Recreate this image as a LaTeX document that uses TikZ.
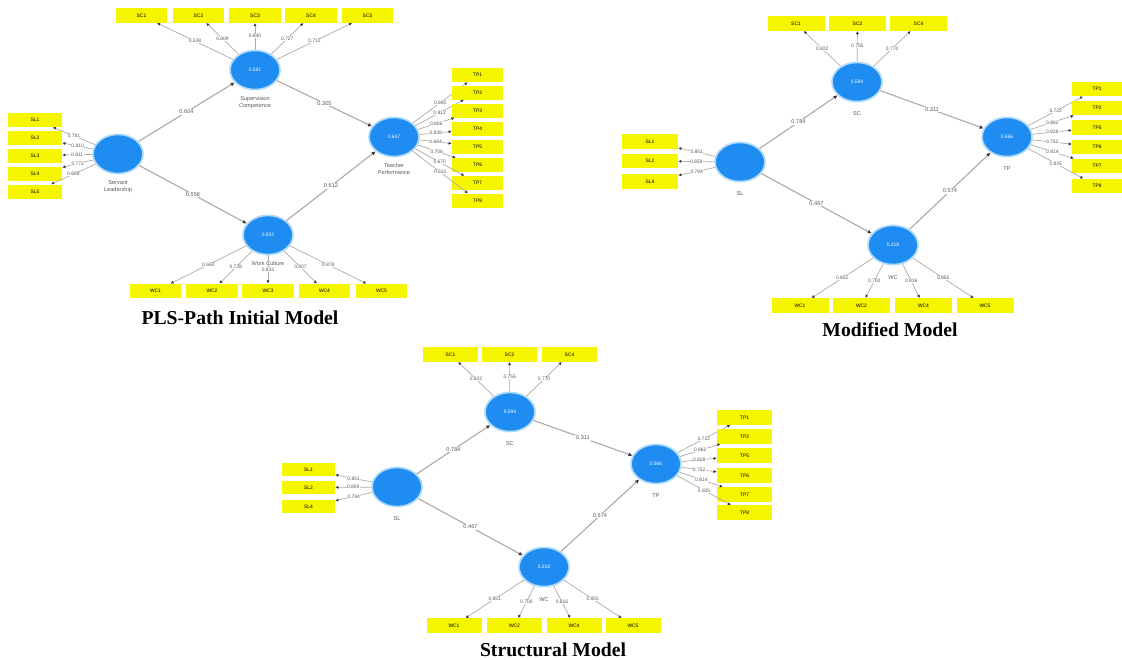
\documentclass[tikz,border=0pt]{standalone}
\usepackage{fontspec}
\setmainfont{Liberation Sans}
\newfontfamily\titlefont{Liberation Serif}
\usetikzlibrary{shapes.geometric,positioning,arrows.meta}
\definecolor{lvblue}{RGB}{30,140,240}
\definecolor{lvglow}{RGB}{175,218,250}
\definecolor{mvyellow}{RGB}{245,245,0}
\definecolor{linegray}{RGB}{175,170,165}
\begin{document}
\begin{tikzpicture}[x=0.025cm,y=-0.025cm,
	lv/.style={ellipse,fill=lvblue,draw=lvglow,line width=1.2pt,minimum width=1.25cm,minimum height=0.98cm,inner sep=0pt,text=white,font=\fontsize{3.5}{4}\selectfont},
	mv/.style={rectangle,fill=mvyellow,minimum width=1.3cm,minimum height=0.36cm,inner sep=0pt,font=\fontsize{3.5}{4}\selectfont},
	lvlab/.style={align=center,text=black!65,font=\fontsize{4}{4.6}\selectfont},
	load/.style={draw=linegray,line width=0.5pt,-{Latex[length=2.2pt,width=2.2pt,color=black!80]}},
	loadlab/.style={pos=0.5,fill=white,inner sep=0.3pt,text=black!65,font=\fontsize{3.5}{4}\selectfont},
	path/.style={draw=linegray,line width=0.8pt,-{Latex[length=2.8pt,width=2.8pt,color=black!80]}},
	pathlab/.style={midway,fill=white,inner sep=0.5pt,text=black!65,font=\fontsize{4}{4.6}\selectfont},
	title/.style={font=\titlefont\bfseries\fontsize{14}{16}\selectfont}]
	\useasboundingbox (0,0) rectangle (1122,659);
	\begin{scope}[mv/.append style={minimum width=1.275cm}]
		\node[lv] (p1SC) at (255,70) {0.581};
		\node[lv] (p1SL) at (118,154) {};
		\node[lv] (p1TP) at (394,137) {0.647};
		\node[lv] (p1WC) at (268,235) {0.502};
		\node[lvlab,below=1pt of p1SC] (p1SCl) {Supervision\\Competence};
		\node[lvlab,below=1pt of p1SL] (p1SLl) {Servant\\Leadership};
		\node[lvlab,below=1pt of p1TP] (p1TPl) {Teacher\\Performance};
		\node[lvlab,below=1pt of p1WC] (p1WCl) {Work Culture};
		\foreach \n/\x/\y/\v in {SC1/141.5/15.5/0.538,SC2/198.5/15.5/0.809,SC3/255/15.5/0.840,SC4/311/15.5/0.727,SC5/367.5/15.5/0.712}{
			\node[mv] (p1\n) at (\x,\y) {\n};
			\draw[load] (p1SC) -- (p1\n) node[loadlab] {\v};
		}
		\foreach \n/\x/\y/\v in {SL1/35/120/0.781,SL2/35/137.5/0.810,SL3/35/155.5/0.811,SL4/35/174/0.772,SL5/35/191.5/0.689}{
			\node[mv,minimum width=1.35cm,minimum height=0.35cm] (p1\n) at (\x,\y) {\n};
			\draw[load] (p1SL) -- (p1\n) node[loadlab] {\v};
		}
		\foreach \n/\y/\v in {TP1/75/0.690,TP2/92.5/0.812,TP3/110.5/0.806,TP4/129/0.838,TP5/146.5/0.684,TP6/165/0.706,TP7/183/0.670,TP8/200.5/0.632}{
			\node[mv,minimum height=0.35cm] (p1\n) at (477.5,\y) {\n};
			\draw[load] (p1TP) -- (p1\n) node[loadlab] {\v};
		}
		\foreach \n/\x/\v in {WC1/155.5/0.663,WC2/212/0.728,WC3/268/0.833,WC4/324.5/0.807,WC5/381.5/0.878}{
			\node[mv] (p1\n) at (\x,291) {\n};
			\draw[load] (p1WC) -- (p1\n) node[loadlab] {\v};
		}
		\draw[path] (p1SL) -- (p1SC) node[pathlab] {0.604};
		\draw[path] (p1SC) -- (p1TP) node[pathlab] {0.305};
		\draw[path] (p1SL) -- (p1WC) node[pathlab] {0.556};
		\draw[path] (p1WC) -- (p1TP) node[pathlab] {0.612};
		\node[title] (t1) at (240,318) {PLS-Path Initial Model};
	\end{scope}
	\begin{scope}[mv/.append style={minimum width=1.425cm}]
		\node[lv] (p2SC) at (857,82) {0.594};
		\node[lv] (p2SL) at (740,162) {};
		\node[lv] (p2TP) at (1007,137) {0.566};
		\node[lv] (p2WC) at (893,245) {0.218};
		\node[lvlab,below=3pt of p2SC] (p2SCl) {SC};
		\node[lvlab,below=3pt of p2SL] (p2SLl) {SL};
		\node[lvlab,below=3pt of p2TP] (p2TPl) {TP};
		\node[lvlab,below=4pt of p2WC] (p2WCl) {WC};
		\foreach \n/\x/\v in {SC1/796/0.822,SC2/857.5/0.755,SC4/918.5/0.770}{
			\node[mv] (p2\n) at (\x,23.5) {\n};
			\draw[load] (p2SC) -- (p2\n) node[loadlab] {\v};
		}
		\foreach \n/\y/\v in {SL1/141.5/0.851,SL2/161/0.859,SL4/181.5/0.794}{
			\node[mv,minimum width=1.4cm] (p2\n) at (650,\y) {\n};
			\draw[load] (p2SL) -- (p2\n) node[loadlab] {\v};
		}
		\foreach \n/\y/\v in {TP1/89/0.722,TP2/108/0.862,TP5/127.5/0.828,TP6/147/0.752,TP7/166/0.814,TP8/186/0.835}{
			\node[mv,minimum width=1.25cm] (p2\n) at (1097,\y) {\n};
			\draw[load] (p2TP) -- (p2\n) node[loadlab] {\v};
		}
		\foreach \n/\x/\v in {WC1/800/0.851,WC2/861.5/0.700,WC4/923.5/0.816,WC5/985/0.855}{
			\node[mv] (p2\n) at (\x,305.5) {\n};
			\draw[load] (p2WC) -- (p2\n) node[loadlab] {\v};
		}
		\draw[path] (p2SL) -- (p2SC) node[pathlab] {0.784};
		\draw[path] (p2SC) -- (p2TP) node[pathlab] {0.311};
		\draw[path] (p2SL) -- (p2WC) node[pathlab] {0.467};
		\draw[path] (p2WC) -- (p2TP) node[pathlab] {0.574};
		\node[title] (t2) at (890,330) {Modified Model};
	\end{scope}
	\begin{scope}[mv/.append style={minimum width=1.375cm}]
		\node[lv] (p3SC) at (510,412) {0.594};
		\node[lv] (p3SL) at (397,487) {};
		\node[lv] (p3TP) at (656,464) {0.566};
		\node[lv] (p3WC) at (544,567) {0.218};
		\node[lvlab,below=3pt of p3SC] (p3SCl) {SC};
		\node[lvlab,below=3pt of p3SL] (p3SLl) {SL};
		\node[lvlab,below=3pt of p3TP] (p3TPl) {TP};
		\node[lvlab,below=4pt of p3WC] (p3WCl) {WC};
		\foreach \n/\x/\v in {SC1/450.5/0.822,SC2/509.5/0.755,SC4/569.5/0.770}{
			\node[mv] (p3\n) at (\x,354.5) {\n};
			\draw[load] (p3SC) -- (p3\n) node[loadlab] {\v};
		}
		\foreach \n/\y/\v in {SL1/469.5/0.851,SL2/487.5/0.859,SL4/506.5/0.794}{
			\node[mv,minimum width=1.325cm,minimum height=0.34cm] (p3\n) at (308.5,\y) {\n};
			\draw[load] (p3SL) -- (p3\n) node[loadlab] {\v};
		}
		\foreach \n/\y/\v in {TP1/417.5/0.722,TP2/436.5/0.862,TP5/455.5/0.828,TP6/475.5/0.752,TP7/494.5/0.814,TP8/512.5/0.835}{
			\node[mv] (p3\n) at (744.5,\y) {\n};
			\draw[load] (p3TP) -- (p3\n) node[loadlab] {\v};
		}
		\foreach \n/\x/\v in {WC1/454/0.851,WC2/514.5/0.700,WC4/574/0.816,WC5/633/0.855}{
			\node[mv] (p3\n) at (\x,625.5) {\n};
			\draw[load] (p3WC) -- (p3\n) node[loadlab] {\v};
		}
		\draw[path] (p3SL) -- (p3SC) node[pathlab] {0.784};
		\draw[path] (p3SC) -- (p3TP) node[pathlab] {0.311};
		\draw[path] (p3SL) -- (p3WC) node[pathlab] {0.467};
		\draw[path] (p3WC) -- (p3TP) node[pathlab] {0.574};
		\node[title] (t3) at (553,650) {Structural Model};
	\end{scope}
\end{tikzpicture}
\end{document}
